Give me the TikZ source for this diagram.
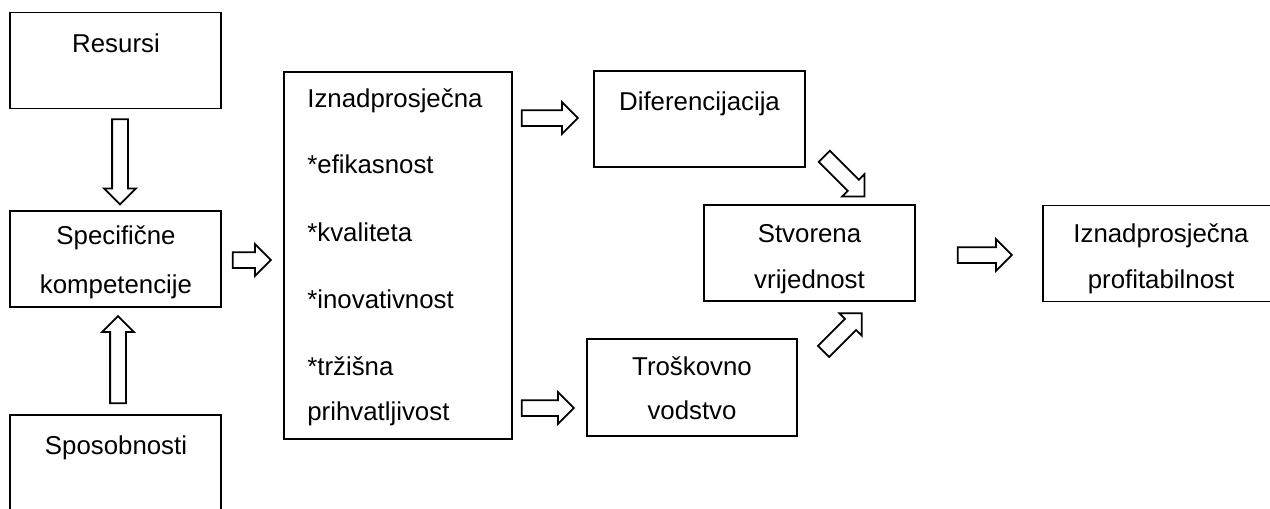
\documentclass[tikz,border=0pt]{standalone}
\usepackage{fontspec}
\setmainfont{Liberation Sans}
\usetikzlibrary{shapes.arrows,calc}

\tikzset{
  box/.style={draw, line width=1.1pt, minimum width=4.22cm, minimum height=1.92cm, inner sep=0pt},
  hollow/.style={single arrow, draw, line width=1pt, inner xsep=0pt, inner ysep=0.14cm, minimum width=0.6cm,
    single arrow head extend=0.16cm, single arrow tip angle=90, anchor=tail},
  txt/.style={anchor=base, inner sep=0pt},
}

\begin{document}
\begin{tikzpicture}[x=0.02cm, y=-0.02cm, font=\fontsize{14.7}{26.8}\selectfont]
    \useasboundingbox (0,0) rectangle (1270,508);
    \clip (0,0) rectangle (1270,508);

    % left column
    \node[box] (resursi) at (115.5,60.5) {};
    \node[box] (spec) at (115.5,259) {};
    \node[box, minimum height=2.1cm] (sposob) at (115.5,467.5) {};
    \node[txt] (tres) at (116,52) {Resursi};
    \node[txt] (tspec1) at (116,244) {Specifične};
    \node[txt] (tspec2) at (116,293) {kompetencije};
    \node[txt] (tspos) at (116,454) {Sposobnosti};

    % big list box
    \node[box, minimum width=4.56cm, minimum height=7.34cm] (big) at (398,255.5) {};
    \foreach \y/\t [count=\i] in {107/Iznadprosječna, 173/*efikasnost, 241/*kvaliteta,
        308/*inovativnost, 375/*tržišna, 420/prihvatljivost}
        \node[txt, anchor=base west] (l\i) at (307,\y) {\t};

    % right part
    \node[box] (dif) at (699.5,119) {};
    \node[txt] (tdif) at (699.5,110) {Diferencijacija};
    \node[box, minimum width=4.2cm, minimum height=1.94cm] (trosk) at (692,387.5) {};
    \node[txt] (ttrosk1) at (692,375) {Troškovno};
    \node[txt] (ttrosk2) at (692,419) {vodstvo};
    \node[box] (stvor) at (809.5,253) {};
    \node[txt] (tstvor1) at (809.5,242) {Stvorena};
    \node[txt] (tstvor2) at (809.5,288) {vrijednost};
    \node[box, minimum width=5.0cm] (profit) at (1168,253.5) {};
    \node[txt] (tprof1) at (1161,242.5) {Iznadprosječna};
    \node[txt] (tprof2) at (1161,288) {profitabilnost};

    % block arrows
    \node[hollow, minimum height=1.7cm, rotate=-90] (a1) at ($(resursi.south)+(4.5,9)$) {};
    \node[hollow, minimum height=1.74cm, rotate=90] (a2) at ($(sposob.north)+(2.5,-10)$) {};
    \node[hollow, minimum height=0.76cm] (a3) at ($(spec.east)+(10,1)$) {};
    \node[hollow, minimum height=1.12cm] (a4) at ($(big.east |- dif.west)+(8,-1)$) {};
    \node[hollow, minimum height=1.04cm] (a5) at ($(big.east |- trosk.west)+(8,20.5)$) {};
    \node[hollow, minimum height=1.14cm, rotate=-45] (a6) at ($(dif.south east)+(17.7,-12.3)$) {};
    \node[hollow, minimum height=1.08cm, rotate=45] (a7) at ($(trosk.north east)+(25,14)$) {};
    \node[hollow, minimum height=1.08cm] (a8) at ($(stvor.east)+(41,2)$) {};
\end{tikzpicture}
\end{document}
